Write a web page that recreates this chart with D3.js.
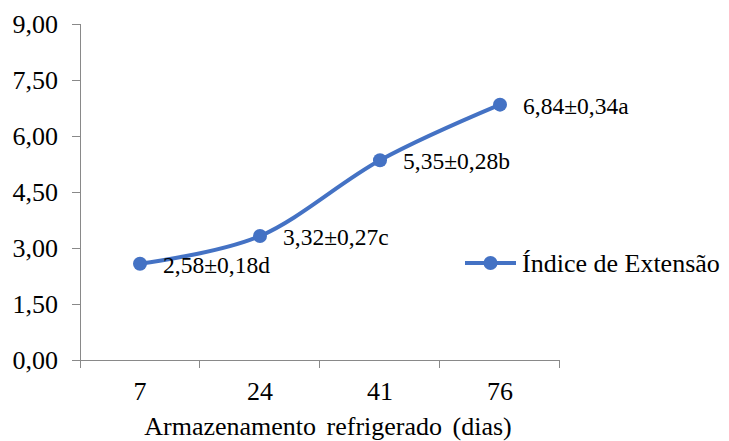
<!DOCTYPE html>
<html>
<head>
<meta charset="utf-8">
<script src="https://cdn.jsdelivr.net/npm/d3@7"></script>
</head>
<body style="margin:0">
<script>
// data
var days = ["7", "24", "41", "76"];
var indexValues = [2.58, 3.32, 5.35, 6.84];
var pointLabels = ["2,58±0,18d", "3,32±0,27c", "5,35±0,28b", "6,84±0,34a"];
var yTicks = [0, 1.5, 3, 4.5, 6, 7.5, 9];
var seriesName = "Índice de Extensão";
var axisTitle = "Armazenamento refrigerado (dias)";

var width = 729, height = 441;
var margin = { left: 80, right: 169, top: 24, bottom: 81 };
var chart = {
    width: width - margin.left - margin.right,
    height: height - margin.top - margin.bottom
};
var blue = "#4472C4", axisColor = "#898989";
var serif = "Liberation Serif";
var fmt = function(v) { return v.toFixed(2).replace(".", ","); };

var svg = d3.select("body").append("svg")
    .attr("width", width)
    .attr("height", height);

var g = svg.append("g")
    .attr("transform", "translate(" + margin.left + "," + margin.top + ")");

var x = d3.scaleBand().domain(days).range([0, chart.width]).padding(0);
var y = d3.scaleLinear().domain([0, 9]).range([chart.height, 0]);

// Y axis
var yAxis = g.append("g")
    .call(d3.axisLeft(y).tickValues(yTicks).tickFormat(fmt).tickSize(8).tickPadding(14));
yAxis.attr("font-family", null).attr("font-size", null);
yAxis.select(".domain").remove();
yAxis.selectAll(".tick line").attr("stroke", axisColor);
yAxis.selectAll("text")
    .attr("fill", "#000")
    .attr("font-family", serif)
    .attr("font-size", 26);
g.append("line")
    .attr("x1", 0.5).attr("x2", 0.5)
    .attr("y1", y(9)).attr("y2", chart.height + 8)
    .attr("stroke", axisColor);

// X axis (ticks between categories)
g.append("line")
    .attr("x1", 0).attr("x2", chart.width)
    .attr("y1", chart.height + 0.5).attr("y2", chart.height + 0.5)
    .attr("stroke", axisColor);
g.selectAll(".xtick")
    .data(days.slice(1).concat(["end"]))
    .enter().append("line")
    .attr("class", "xtick")
    .attr("x1", function(d, i) { return Math.round(x.step() * (i + 1)) - 0.5; })
    .attr("x2", function(d, i) { return Math.round(x.step() * (i + 1)) - 0.5; })
    .attr("y1", chart.height)
    .attr("y2", chart.height + 8)
    .attr("stroke", axisColor);
g.selectAll(".xlabel")
    .data(days)
    .enter().append("text")
    .attr("x", function(d) { return x(d) + x.bandwidth() / 2; })
    .attr("y", chart.height + 40)
    .attr("text-anchor", "middle")
    .attr("font-family", serif)
    .attr("font-size", 26)
    .text(function(d) { return d; });

g.append("text")
    .attr("x", chart.width / 2 + 8)
    .attr("y", chart.height + 75)
    .attr("text-anchor", "middle")
    .attr("font-family", serif)
    .attr("font-size", 26)
    .attr("word-spacing", 4)
    .text(axisTitle);

// line
var pts = days.map(function(d, i) { return [x(d) + x.bandwidth() / 2, y(indexValues[i])]; });
g.append("path")
    .datum(pts)
    .attr("fill", "none")
    .attr("stroke", blue)
    .attr("stroke-width", 4)
    .attr("stroke-linecap", "round")
    .attr("d", d3.line().curve(d3.curveCardinal.tension(0)));

g.selectAll(".dot")
    .data(pts)
    .enter().append("circle")
    .attr("cx", function(d) { return d[0]; })
    .attr("cy", function(d) { return d[1]; })
    .attr("r", 7)
    .attr("fill", blue);

// point labels
g.selectAll(".plabel")
    .data(pts)
    .enter().append("text")
    .attr("x", function(d) { return d[0] + 23; })
    .attr("y", function(d) { return d[1] + 9; })
    .attr("font-family", serif)
    .attr("font-size", 23.5)
    .text(function(d, i) { return pointLabels[i]; });

// legend
var legend = svg.append("g").attr("transform", "translate(465,263)");
legend.append("line")
    .attr("x1", 0).attr("x2", 51)
    .attr("stroke", blue).attr("stroke-width", 4);
legend.append("circle").attr("cx", 25.5).attr("r", 7).attr("fill", blue);
legend.append("text")
    .attr("x", 57).attr("y", 9)
    .attr("font-family", serif)
    .attr("font-size", 26)
    .text(seriesName);
</script>
</body>
</html>
